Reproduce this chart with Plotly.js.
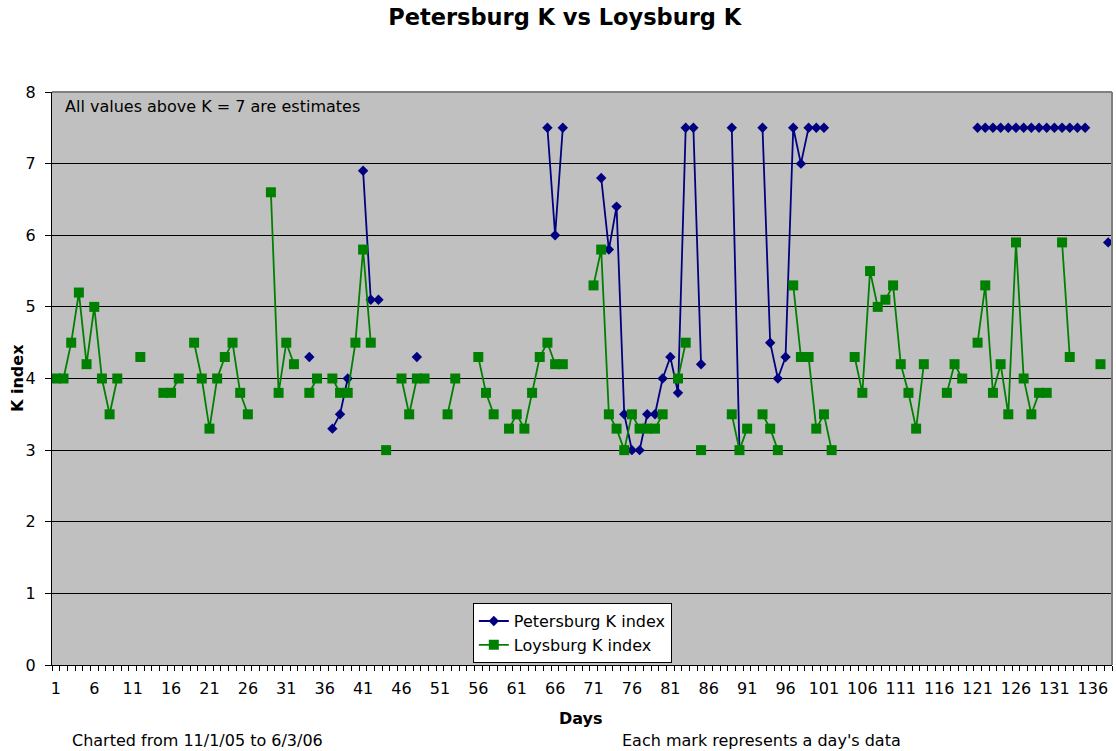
<!DOCTYPE html>
<html>
<head>
<meta charset="utf-8">
<script src="https://cdn.plot.ly/plotly-3.0.1.min.js"></script>
<style>html,body{margin:0;padding:0;background:#fff;}#chart{width:1116px;height:751px;}</style>
</head>
<body>
<div id="chart"></div>
<script>
// Days (categories)
const days = [
  1,2,3,4,5,6,7,8,9,10,
  11,12,13,14,15,16,17,18,19,20,
  21,22,23,24,25,26,27,28,29,30,
  31,32,33,34,35,36,37,38,39,40,
  41,42,43,44,45,46,47,48,49,50,
  51,52,53,54,55,56,57,58,59,60,
  61,62,63,64,65,66,67,68,69,70,
  71,72,73,74,75,76,77,78,79,80,
  81,82,83,84,85,86,87,88,89,90,
  91,92,93,94,95,96,97,98,99,100,
  101,102,103,104,105,106,107,108,109,110,
  111,112,113,114,115,116,117,118,119,120,
  121,122,123,124,125,126,127,128,129,130,
  131,132,133,134,135,136,137,138
];

// Petersburg K index (null = no data)
const petersburgK = [
  null,null,null,null,null,null,null,null,null,null,
  null,null,null,null,null,null,null,null,null,null,
  null,null,null,null,null,null,null,null,null,null,
  null,null,null,4.3,null,null,3.3,3.5,4.0,null,
  6.9,5.1,5.1,null,null,null,null,4.3,null,null,
  null,null,null,null,null,null,null,null,null,null,
  null,null,null,null,7.5,6.0,7.5,null,null,null,
  null,6.8,5.8,6.4,3.5,3.0,3.0,3.5,3.5,4.0,
  4.3,3.8,7.5,7.5,4.2,null,null,null,7.5,3.0,
  null,null,7.5,4.5,4.0,4.3,7.5,7.0,7.5,7.5,
  7.5,null,null,null,null,null,null,null,null,null,
  null,null,null,null,null,null,null,null,null,null,
  7.5,7.5,7.5,7.5,7.5,7.5,7.5,7.5,7.5,7.5,
  7.5,7.5,7.5,7.5,7.5,null,null,5.9
];

// Loysburg K index (null = no data)
const loysburgK = [
  4.0,4.0,4.5,5.2,4.2,5.0,4.0,3.5,4.0,null,
  null,4.3,null,null,3.8,3.8,4.0,null,4.5,4.0,
  3.3,4.0,4.3,4.5,3.8,3.5,null,null,6.6,3.8,
  4.5,4.2,null,3.8,4.0,null,4.0,3.8,3.8,4.5,
  5.8,4.5,null,3.0,null,4.0,3.5,4.0,4.0,null,
  null,3.5,4.0,null,null,4.3,3.8,3.5,null,3.3,
  3.5,3.3,3.8,4.3,4.5,4.2,4.2,null,null,null,
  5.3,5.8,3.5,3.3,3.0,3.5,3.3,3.3,3.3,3.5,
  null,4.0,4.5,null,3.0,null,null,null,3.5,3.0,
  3.3,null,3.5,3.3,3.0,null,5.3,4.3,4.3,3.3,
  3.5,3.0,null,null,4.3,3.8,5.5,5.0,5.1,5.3,
  4.2,3.8,3.3,4.2,null,null,3.8,4.2,4.0,null,
  4.5,5.3,3.8,4.2,3.5,5.9,4.0,3.5,3.8,3.8,
  null,5.9,4.3,null,null,null,4.2,null
];

// Tick labels on the Days axis
const dayTickVals = [1,6,11,16,21,26,31,36,41,46,51,56,61,66,71,76,81,86,91,96,101,106,111,116,121,126,131,136];
const dayTickText = dayTickVals.map(String);

const FONT = 'DejaVu Sans, Verdana, sans-serif';
const FS = 16;

const traces = [
  {
    x: days, y: petersburgK, name: 'Petersburg K index',
    type: 'scatter', mode: 'lines+markers', connectgaps: false,
    line: {color: '#000080', width: 1.8},
    marker: {symbol: 'diamond', size: 8, color: '#000080', line: {width: 0}}
  },
  {
    x: days, y: loysburgK, name: 'Loysburg K index',
    type: 'scatter', mode: 'lines+markers', connectgaps: false,
    line: {color: '#008000', width: 1.8},
    marker: {symbol: 'square', size: 10, color: '#008000', line: {width: 0}}
  }
];

const layout = {
  width: 1116, height: 751,
  margin: {l: 52, r: 4, t: 92, b: 86, pad: 0},
  paper_bgcolor: '#ffffff',
  plot_bgcolor: '#C0C0C0',
  font: {family: FONT, size: FS, color: '#000'},
  title: {
    text: '<b>Petersburg K vs Loysburg K</b>',
    font: {family: FONT, size: 22.5, color: '#000'},
    xref: 'container', yref: 'container',
    x: 0.506, xanchor: 'center', y: 1 - 17/751, yanchor: 'middle'
  },
  showlegend: true,
  legend: {
    x: 0.397, y: 0.108, xanchor: 'left', yanchor: 'top',
    bgcolor: '#ffffff', bordercolor: '#000', borderwidth: 1,
    font: {family: FONT, size: FS, color: '#000'},
    tracegroupgap: 0
  },
  xaxis: {
    range: [0.5, 138.5],
    tickmode: 'array', tickvals: dayTickVals, ticktext: dayTickText,
    ticks: 'outside', ticklen: 6, tickcolor: 'rgba(0,0,0,0)',
    ticklabelstandoff: 3,
    minor: {tickmode: 'linear', tick0: 0.5, dtick: 1, ticks: 'outside', ticklen: 5, tickcolor: '#000', tickwidth: 1, showgrid: false},
    showline: true, linecolor: '#000', linewidth: 1,
    showgrid: false, zeroline: false,
    tickfont: {family: FONT, size: FS, color: '#000'}
  },
  yaxis: {
    range: [0, 8], tickmode: 'linear', tick0: 0, dtick: 1,
    ticks: 'outside', ticklen: 6, tickcolor: '#000',
    ticklabelstandoff: 6,
    showline: true, linecolor: '#000', linewidth: 1,
    showgrid: true, gridcolor: '#000', gridwidth: 1,
    zeroline: false,
    tickfont: {family: FONT, size: FS, color: '#000'}
  },
  shapes: [
    {type: 'line', xref: 'paper', yref: 'paper', x0: 0, x1: 1, y0: 1, y1: 1, line: {color: '#808080', width: 2}, layer: 'above'},
    {type: 'line', xref: 'paper', yref: 'paper', x0: 1, x1: 1, y0: 0, y1: 1, line: {color: '#808080', width: 2}, layer: 'above'}
  ],
  annotations: [
    {text: 'All values above K = 7 are estimates', xref: 'paper', yref: 'paper',
     x: (63-52)/1060, y: (665-107)/573, xanchor: 'left', yanchor: 'middle', showarrow: false,
     font: {family: FONT, size: FS, color: '#000'}},
    {text: '<b>Days</b>', xref: 'paper', yref: 'paper',
     x: (581-52)/1060, y: (665-718)/573, xanchor: 'center', yanchor: 'middle', showarrow: false,
     font: {family: FONT, size: FS, color: '#000'}},
    {text: '<b>K index</b>', xref: 'paper', yref: 'paper', textangle: -90,
     x: (17-52)/1060, y: (665-378)/573, xanchor: 'center', yanchor: 'middle', showarrow: false,
     font: {family: FONT, size: FS, color: '#000'}},
    {text: 'Charted from 11/1/05 to 6/3/06', xref: 'paper', yref: 'paper',
     x: (70-52)/1060, y: (665-740)/573, xanchor: 'left', yanchor: 'middle', showarrow: false,
     font: {family: FONT, size: FS, color: '#000'}},
    {text: "Each mark represents a day's data", xref: 'paper', yref: 'paper',
     x: (620-52)/1060, y: (665-740)/573, xanchor: 'left', yanchor: 'middle', showarrow: false,
     font: {family: FONT, size: FS, color: '#000'}}
  ]
};

Plotly.newPlot('chart', traces, layout, {displayModeBar: false, staticPlot: true});
</script>
</body>
</html>
